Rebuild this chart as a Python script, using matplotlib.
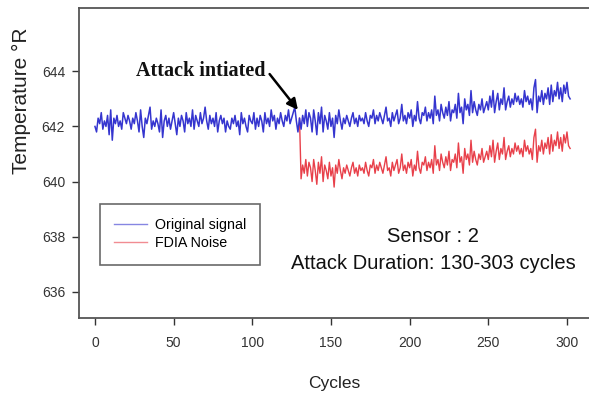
import numpy as np
import matplotlib
matplotlib.use("Agg")
from matplotlib import pyplot as plt

# sensor 2 reading, cycles 0..302
original = [
    642.0, 641.8, 642.3, 642.1, 642.5, 641.9, 642.2, 642.0, 642.4, 641.7, 642.6, 641.5, 642.3, 642.1, 642.4, 642.0, 642.2, 641.9, 642.5, 642.3,
    642.1, 642.4, 642.2, 641.9, 642.3, 642.1, 642.5, 642.2, 641.8, 642.6, 642.0, 641.6, 642.3, 642.1, 642.4, 642.7, 641.9, 642.2, 642.0, 642.3,
    642.1, 641.8, 642.6, 641.6, 642.2, 642.4, 642.0, 642.3, 641.9, 642.2, 642.5, 642.1, 641.7, 642.3, 642.0, 642.4, 642.2, 641.8, 642.5, 642.1,
    642.3, 642.0, 642.6, 641.9, 642.4, 642.2, 642.0, 642.5, 642.1, 642.3, 642.7, 642.2, 641.9, 642.4, 642.1, 642.3, 642.0, 642.5, 641.8, 642.2,
    642.4, 642.1, 642.3, 641.8, 642.2, 642.0, 641.9, 642.3, 642.1, 642.4, 642.0, 642.2, 641.7, 642.5, 642.1, 642.3, 642.0, 641.8, 642.4, 642.2,
    642.1, 642.5, 641.9, 642.3, 642.0, 642.4, 642.2, 641.8, 642.5, 642.1, 642.3, 642.0, 642.6, 642.2, 642.4, 641.9, 642.3, 642.1, 642.5, 642.2,
    642.0, 642.4, 642.2, 642.6, 642.1, 642.3, 642.5, 642.7, 642.2, 641.8,
    642.3, 641.9, 642.4, 642.1, 642.6, 642.0, 642.5, 642.3, 641.8, 642.6, 642.2, 641.7, 642.5, 642.1, 642.7, 641.8, 642.4, 642.2, 641.9, 642.5,
    642.0, 642.3, 641.6, 642.4, 642.1, 642.6, 642.2, 641.9, 642.3, 642.1, 642.4, 642.2, 642.0, 642.3, 642.5, 642.1, 642.3, 642.0, 642.4, 642.2,
    642.3, 642.1, 642.5, 642.2, 642.0, 642.4, 642.3, 642.6, 642.1, 642.4, 642.2, 642.5, 642.3, 642.1, 642.4, 642.7, 642.2, 642.3, 642.0, 642.5,
    642.2, 642.4, 642.6, 642.1, 642.3, 642.8, 642.2, 642.4, 642.1, 642.5, 642.3, 642.6, 642.0, 642.4, 642.2, 642.9, 642.3, 642.1, 642.5, 642.4,
    642.7, 642.2, 642.5, 642.3, 642.6, 642.1, 643.1, 642.4, 642.6, 642.2, 642.8, 642.5, 642.3, 642.7, 642.4, 642.9, 642.2, 642.6, 642.5, 642.8,
    642.3, 643.2, 642.5, 642.7, 642.1, 643.0, 642.6, 642.8, 642.4, 643.3, 642.5, 642.9, 642.6, 642.4, 642.8, 642.6, 643.0, 642.5, 642.7, 642.9,
    642.6, 643.1, 642.7, 643.3, 642.5, 642.9, 643.2, 642.6, 643.0, 642.8, 643.4, 642.6, 642.9, 643.1, 642.7, 643.0, 642.8, 643.2, 642.9, 643.1,
    642.8, 643.0, 642.7, 643.3, 642.9, 643.1, 642.8, 643.0, 642.6, 643.4, 643.7, 642.5, 643.1, 642.9, 643.3, 642.8, 643.2, 643.0, 643.4, 642.8,
    643.5, 642.9, 643.3, 643.1, 643.6, 643.0, 643.4, 642.9, 643.5, 643.2, 643.6, 643.1, 643.0,
]

# injected (FDIA) reading, cycles 130..302
attack_start = 130
fdia = [
    642.3, 640.1, 640.6, 640.3, 640.8, 640.2, 640.7, 640.5, 640.0, 640.8, 640.4, 639.9, 640.7, 640.3, 640.9, 640.0, 640.6, 640.4, 640.1, 640.7,
    640.2, 640.5, 639.8, 640.6, 640.3, 640.8, 640.4, 640.1, 640.5, 640.3, 640.6, 640.4, 640.2, 640.5, 640.7, 640.3, 640.5, 640.2, 640.6, 640.4,
    640.5, 640.3, 640.7, 640.4, 640.2, 640.6, 640.5, 640.8, 640.3, 640.6, 640.4, 640.7, 640.5, 640.3, 640.6, 640.9, 640.4, 640.5, 640.2, 640.7,
    640.4, 640.6, 640.8, 640.3, 640.5, 641.0, 640.4, 640.6, 640.3, 640.7, 640.5, 640.8, 640.2, 640.6, 640.4, 641.1, 640.5, 640.3, 640.7, 640.6,
    640.9, 640.4, 640.7, 640.5, 640.8, 640.3, 641.3, 640.6, 640.8, 640.4, 641.0, 640.7, 640.5, 640.9, 640.6, 641.1, 640.4, 640.8, 640.7, 641.0,
    640.5, 641.4, 640.7, 640.9, 640.3, 641.2, 640.8, 641.0, 640.6, 641.5, 640.7, 641.1, 640.8, 640.6, 641.0, 640.8, 641.2, 640.7, 640.9, 641.1,
    640.8, 641.3, 640.9, 641.5, 640.7, 641.1, 641.4, 640.8, 641.2, 641.0, 641.6, 640.8, 641.1, 641.3, 640.9, 641.2, 641.0, 641.4, 641.1, 641.3,
    641.0, 641.2, 640.9, 641.5, 641.1, 641.3, 641.0, 641.2, 640.8, 641.6, 641.9, 640.7, 641.3, 641.1, 641.5, 641.0, 641.4, 641.2, 641.6, 641.0,
    641.7, 641.1, 641.5, 641.3, 641.8, 641.2, 641.6, 641.1, 641.7, 641.4, 641.8, 641.3, 641.2,
]

cycles = np.arange(len(original))
fdia_cycles = np.arange(attack_start, attack_start + len(fdia))

x_ticks = [0, 50, 100, 150, 200, 250, 300]
y_ticks = [636, 638, 640, 642, 644]

plt.rcParams['font.family'] = ['Liberation Sans', 'DejaVu Sans']

fig = plt.figure(figsize=(5.89, 3.96), dpi=100)
ax = fig.add_axes([0.134, 0.197, 0.866, 0.783])

ax.plot(fdia_cycles, fdia, color='#e8404a', lw=1.0, label='FDIA Noise', zorder=2)
ax.plot(cycles, original, color='#3535cf', lw=1.1, label='Original signal', zorder=3)

ax.set_xlim(-10.2, 314)
ax.set_ylim(635.05, 646.3)
ax.set_xticks(x_ticks)
ax.set_yticks(y_ticks)
ax.tick_params(axis='both', labelsize=10, colors='#333333', length=5, width=1)
ax.tick_params(axis='x', pad=8)
ax.tick_params(axis='y', pad=5)

for side in ['left', 'bottom', 'top']:
    ax.spines[side].set_color('#555555')
    ax.spines[side].set_linewidth(1.3)
ax.spines['right'].set_visible(False)

ax.set_xlabel('Cycles', fontsize=12.5, color='#222222', labelpad=19)
ax.set_ylabel('Temperature °R', fontsize=15, color='#222222')
ax.yaxis.set_label_coords(-0.094, 0.70)

ax.text(67, 644.0, 'Attack intiated', ha='center', va='center', fontsize=14.5,
        fontweight='bold', family='Liberation Serif', color='#111111')
ax.annotate('', xy=(129, 642.6), xytext=(111, 643.9),
            arrowprops=dict(arrowstyle='-|>', color='black', lw=1.8,
                            shrinkA=0, shrinkB=0, mutation_scale=16))

ax.text(215, 638.0, 'Sensor : 2', ha='center', va='center', fontsize=14.5, color='#111111')
ax.text(215, 637.03, 'Attack Duration: 130-303 cycles', ha='center', va='center',
        fontsize=14.5, color='#111111')

handles, labels = ax.get_legend_handles_labels()
leg = ax.legend(handles[::-1], labels[::-1], loc='upper left',
                bbox_to_anchor=(0.041, 0.368), borderaxespad=0,
                fontsize=10.3, frameon=True, fancybox=False, borderpad=1.0,
                handlelength=2.3, labelspacing=0.3, handletextpad=0.55)
leg.get_frame().set_edgecolor('#444444')
leg.get_frame().set_linewidth(1.2)
for line in leg.get_lines():
    line.set_linewidth(1.0)
    line.set_alpha(0.6)

fig.savefig('out.png', dpi=100)
